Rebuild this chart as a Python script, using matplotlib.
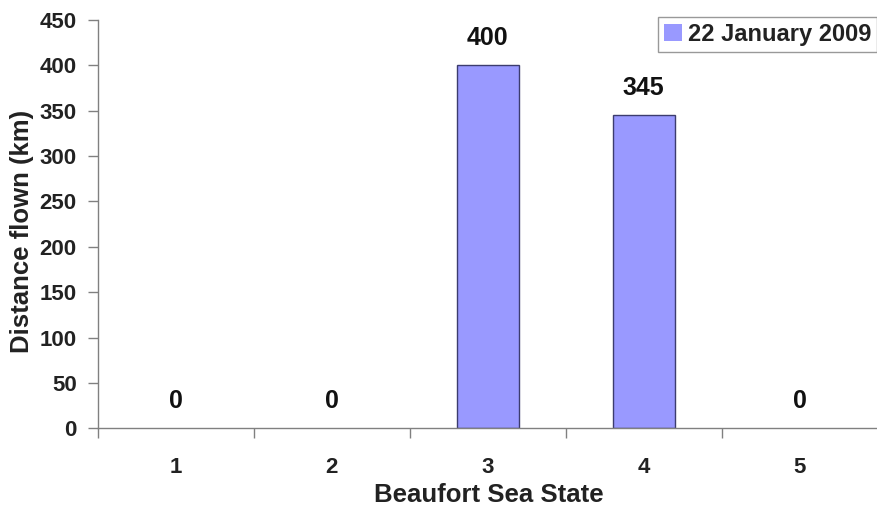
import matplotlib.pyplot as plt

# data
states = [1, 2, 3, 4, 5]
distance_km = [0, 0, 400, 345, 0]
series_name = "22 January 2009"

plt.rcParams['font.family'] = ['Liberation Sans', 'DejaVu Sans']
plt.rcParams['font.weight'] = 'bold'

fig = plt.figure(figsize=(8.77, 5.11), dpi=100)
ax = fig.add_axes([0.1114, 0.1618, 0.8895, 0.7991])

# zero bars show no outline in the original
lw = [1.0 if v else 0 for v in distance_km]
bars = ax.bar(states, distance_km, width=0.4, color='#9999ff',
              edgecolor='#3c3c6e', linewidth=lw, label=series_name)

for x, v in zip(states, distance_km):
    ax.annotate(str(v), (x, v), xytext=(0, 11), textcoords='offset points',
                ha='center', va='bottom', fontsize=18, fontweight='bold',
                color='#111111')

ax.set_xlim(0.5, 5.5)
ax.set_ylim(0, 450)
ax.set_yticks(range(0, 451, 50))
ax.set_xticks(states)
ax.set_xticks([1.5, 2.5, 3.5, 4.5, 5.5, 0.5], minor=True)
ax.tick_params(axis='x', which='major', length=0, pad=21, labelsize=16,
               labelcolor='#222222')
ax.tick_params(axis='x', which='minor', length=7, width=1.0, color='#808080')
ax.tick_params(axis='y', length=7, width=1.0, color='#808080', pad=8,
               labelsize=16, labelcolor='#222222')

for s in ['top', 'right']:
    ax.spines[s].set_visible(False)
for s in ['left', 'bottom']:
    ax.spines[s].set_color('#808080')
    ax.spines[s].set_linewidth(1.0)

ax.set_xlabel("Beaufort Sea State", fontsize=18.5, fontweight='bold',
              color='#222222')
ax.set_ylabel("Distance flown (km)", fontsize=18.5, fontweight='bold',
              color='#222222')
ax.xaxis.set_label_coords(0.502, -0.133)
ax.yaxis.set_label_coords(-0.082, 0.481)

leg = ax.legend(loc='upper left', bbox_to_anchor=(658 / 877, 1 - 17 / 511),
                bbox_transform=fig.transFigure, borderaxespad=0,
                fancybox=False, handlelength=0.75, handleheight=0.75,
                handletextpad=0.25, borderpad=0.25,
                prop={'weight': 'bold', 'size': 17})
leg.get_frame().set_edgecolor('#808080')
leg.get_frame().set_linewidth(1.0)
for t in leg.get_texts():
    t.set_color('#222222')

fig.savefig("out.png", dpi=100)
